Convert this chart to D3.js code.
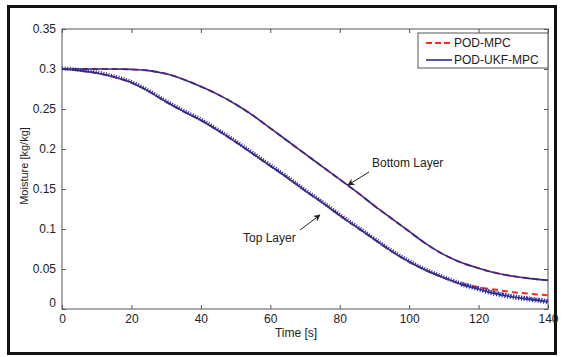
<!DOCTYPE html>
<html>
<head>
	<title></title>
	<style>
		body { margin: 0; background: #fff; }
		text { font-family: Arial, "Liberation Sans", sans-serif; fill: #222; }
	</style>
</head>
<body>

<svg id="chart" width="563" height="357"></svg>

<script src="https://cdnjs.cloudflare.com/ajax/libs/d3/7.8.5/d3.min.js"></script>
<script>
	// Time samples [s]
	const time = [0, 5, 10, 15, 20, 25, 30, 35, 40, 45, 50, 55, 60, 65, 70, 75, 80, 85, 90, 95, 100, 105, 110, 115, 120, 125, 130, 135, 140]

	// Bottom layer moisture [kg/kg]
	const bottomUKF = [0.300, 0.300, 0.300, 0.300, 0.2995, 0.298, 0.294, 0.287, 0.278, 0.268, 0.256, 0.242, 0.226, 0.210, 0.194, 0.178, 0.162, 0.146, 0.129, 0.113, 0.097, 0.081, 0.068, 0.058, 0.051, 0.045, 0.041, 0.038, 0.036]
	const bottomMPC = [0.300, 0.300, 0.300, 0.300, 0.2995, 0.298, 0.294, 0.287, 0.278, 0.268, 0.256, 0.242, 0.226, 0.210, 0.194, 0.178, 0.162, 0.146, 0.129, 0.113, 0.097, 0.081, 0.068, 0.058, 0.051, 0.045, 0.041, 0.038, 0.036]

	// Top layer moisture [kg/kg]
	const topUKF = [0.300, 0.298, 0.295, 0.290, 0.283, 0.272, 0.259, 0.247, 0.236, 0.223, 0.209, 0.194, 0.179, 0.164, 0.148, 0.133, 0.117, 0.102, 0.087, 0.072, 0.059, 0.048, 0.039, 0.031, 0.025, 0.019, 0.015, 0.012, 0.009]
	const topMPC = [0.300, 0.298, 0.295, 0.290, 0.283, 0.272, 0.259, 0.247, 0.236, 0.223, 0.209, 0.194, 0.179, 0.164, 0.148, 0.133, 0.117, 0.102, 0.087, 0.072, 0.059, 0.048, 0.039, 0.031, 0.027, 0.024, 0.021, 0.019, 0.017]

	// Axis ticks
	const xTicks = [0, 20, 40, 60, 80, 100, 120, 140]
	const yTicks = [0, 0.05, 0.1, 0.15, 0.2, 0.25, 0.3, 0.35]
	const yTickLabels = ['0', '0.05', '0.1', '0.15', '0.2', '0.25', '0.3', '0.35']

	const seriesNames = ['POD-MPC', 'POD-UKF-MPC']
	const red = '#ff2a1a'
	const blue = '#2b2d96'

	const svg = d3.select('#chart')

	// outer frame
	svg.append('rect')
		.attr('x', 8.5).attr('y', 6.5)
		.attr('width', 547).attr('height', 347)
		.attr('fill', '#fff')
		.attr('stroke', '#111')
		.attr('stroke-width', 3)

	const mLeft = 62, mRight = 548, mTop = 29, mBottom = 309

	const x = d3.scaleLinear().domain([0, 140]).range([mLeft, mRight])
	const y = d3.scaleLinear().domain([0, 0.35]).range([mBottom, mTop])

	// plot box
	svg.append('rect')
		.attr('x', mLeft).attr('y', mTop)
		.attr('width', mRight - mLeft).attr('height', mBottom - mTop)
		.attr('fill', '#fff')
		.attr('stroke', '#555')
		.attr('stroke-width', 1)

	// axes, ticks pointing inward like MATLAB
	const styleAxis = g => {
		g.select('.domain').remove()
		g.selectAll('line').attr('stroke', '#555')
		g.selectAll('text').attr('font-size', 12).attr('fill', '#222')
			.style('font-family', 'Arial, "Liberation Sans", sans-serif')
	}

	svg.append('g')
		.attr('transform', `translate(0,${mBottom})`)
		.call(d3.axisBottom(x).tickValues(xTicks).tickSize(-4).tickPadding(5).tickFormat(d3.format('d')))
		.call(styleAxis)

	svg.append('g')
		.attr('transform', `translate(0,${mTop})`)
		.call(d3.axisTop(x).tickValues(xTicks).tickSize(-4).tickFormat(''))
		.call(styleAxis)

	const yAxis = svg.append('g')
		.attr('transform', `translate(${mLeft},0)`)
		.call(d3.axisLeft(y).tickValues(yTicks).tickSize(-4).tickPadding(6).tickFormat((d, i) => yTickLabels[i]))
		.call(styleAxis)
	// the zero label sits a little higher
	yAxis.selectAll('.tick text').filter(d => d === 0).attr('dy', '-0.25em')

	svg.append('g')
		.attr('transform', `translate(${mRight},0)`)
		.call(d3.axisRight(y).tickValues(yTicks).tickSize(-4).tickFormat(''))
		.call(styleAxis)

	// axis labels
	svg.append('text')
		.attr('x', 296).attr('y', 337)
		.attr('text-anchor', 'middle')
		.attr('font-size', 12)
		.text('Time [s]')

	svg.append('text')
		.attr('transform', 'translate(28,166) rotate(-90)')
		.attr('text-anchor', 'middle')
		.attr('font-size', 11)
		.text('Moisture [kg/kg]')

	// lines
	const line = d3.line()
		.x((d, i) => x(time[i]))
		.y(d => y(d))
		.curve(d3.curveMonotoneX)

	const plot = svg.append('g')

	plot.append('path').datum(bottomMPC)
		.attr('d', line).attr('fill', 'none')
		.attr('stroke', red).attr('stroke-width', 2).attr('stroke-dasharray', '6,4')
	plot.append('path').datum(topMPC)
		.attr('d', line).attr('fill', 'none')
		.attr('stroke', red).attr('stroke-width', 2).attr('stroke-dasharray', '6,4')

	plot.append('path').datum(bottomUKF)
		.attr('d', line).attr('fill', 'none')
		.attr('stroke', blue).attr('stroke-width', 1.6)
	plot.append('path').datum(topUKF)
		.attr('d', line).attr('fill', 'none')
		.attr('stroke', blue).attr('stroke-width', 1.6)

	// jagged look of the top UKF trace (estimator chatter)
	plot.append('path').datum(topUKF)
		.attr('d', line).attr('fill', 'none')
		.attr('transform', 'translate(0,-0.8)')
		.attr('stroke', blue).attr('stroke-width', 3.8)
		.attr('stroke-dasharray', '1,1.6')

	const tailLine = d3.line()
		.defined((d, i) => time[i] >= 115)
		.x((d, i) => x(time[i]))
		.y(d => y(d))
		.curve(d3.curveMonotoneX)
	plot.append('path').datum(topUKF)
		.attr('d', tailLine).attr('fill', 'none')
		.attr('stroke', blue).attr('stroke-width', 5)
		.attr('stroke-dasharray', '1,1.8')

	// annotations
	svg.append('defs').append('marker')
		.attr('id', 'arrow')
		.attr('viewBox', '0 0 10 10')
		.attr('refX', 9).attr('refY', 5)
		.attr('markerWidth', 7).attr('markerHeight', 7)
		.attr('orient', 'auto')
		.append('path')
		.attr('d', 'M0,0 L10,5 L0,10 L3,5 Z')
		.attr('fill', '#222')

	svg.append('line')
		.attr('x1', 369).attr('y1', 172).attr('x2', 348).attr('y2', 185)
		.attr('stroke', '#222').attr('stroke-width', 1)
		.attr('marker-end', 'url(#arrow)')
	svg.append('text')
		.attr('x', 372).attr('y', 167)
		.attr('font-size', 12)
		.text('Bottom Layer')

	svg.append('line')
		.attr('x1', 300).attr('y1', 230).attr('x2', 320).attr('y2', 215)
		.attr('stroke', '#222').attr('stroke-width', 1)
		.attr('marker-end', 'url(#arrow)')
	svg.append('text')
		.attr('x', 243).attr('y', 242)
		.attr('font-size', 12)
		.text('Top Layer')

	// legend
	const legend = svg.append('g')
	legend.append('rect')
		.attr('x', 418).attr('y', 33)
		.attr('width', 130).attr('height', 35)
		.attr('fill', '#fff')
		.attr('stroke', '#555')

	seriesNames.forEach((name, i) => {
		const ly = 43 + i * 17
		legend.append('line')
			.attr('x1', 426).attr('x2', 452)
			.attr('y1', ly).attr('y2', ly)
			.attr('stroke', i === 0 ? red : blue)
			.attr('stroke-width', i === 0 ? 2 : 1.6)
			.attr('stroke-dasharray', i === 0 ? '6,3' : null)
		legend.append('text')
			.attr('x', 454).attr('y', ly + 4)
			.attr('font-size', 12)
			.text(name)
	})
</script>
</body>
</html>
